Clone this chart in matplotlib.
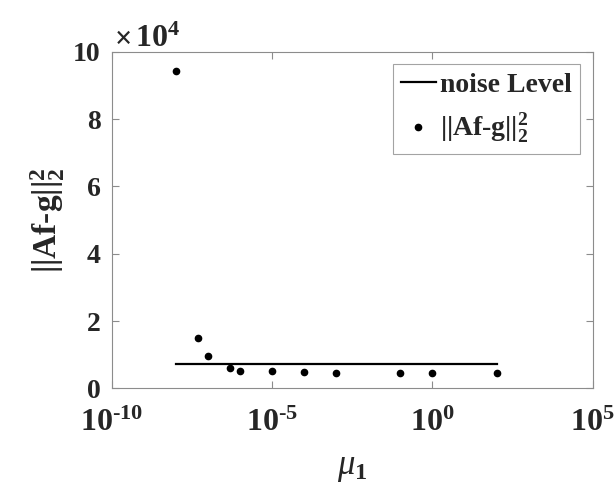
import matplotlib
matplotlib.use('Agg')
import matplotlib.pyplot as plt
import numpy as np

plt.rcParams['font.family'] = 'Liberation Serif'
plt.rcParams['font.weight'] = 'bold'
plt.rcParams['mathtext.fontset'] = 'custom'
plt.rcParams['mathtext.rm'] = 'Liberation Serif:bold'
plt.rcParams['mathtext.bf'] = 'Liberation Serif:bold'
plt.rcParams['mathtext.it'] = 'Liberation Serif:italic:normal'

# data
mu1 = [1e-8, 5e-8, 1e-7, 5e-7, 1e-6, 1e-5, 1e-4, 1e-3, 1e-1, 1e0, 1e2]
residual = [94300, 15000, 9600, 6000, 5300, 5300, 5000, 4600, 4600, 4600, 4600]
noise_x = [1e-8, 1e2]
noise_level = [7200, 7200]

xticks = [1e-10, 1e-5, 1e0, 1e5]
xticklabels = [r'10$^{\text{-}10}$', r'10$^{\text{-}5}$', r'10$^{0}$', r'10$^{5}$']
yticks = [0, 2e4, 4e4, 6e4, 8e4, 10e4]
yticklabels = ['0', '2', '4', '6', '8', '10']

fig = plt.figure(figsize=(6.16, 4.87), dpi=100)
ax = fig.add_axes([0.1813, 0.2025, 0.7809, 0.6913])

ax.plot(noise_x, noise_level, color='k', linewidth=1.6, label='noise Level')
ax.plot(mu1, residual, 'k.', markersize=9, label='||Af-g||$_2^2$')

ax.set_xscale('log')
ax.set_xlim(1e-10, 1e5)
ax.set_ylim(0, 1e5)
ax.set_xticks(xticks)
ax.set_xticklabels(xticklabels)
ax.xaxis.set_minor_locator(matplotlib.ticker.NullLocator())
ax.set_yticks(yticks)
ax.set_yticklabels(yticklabels)

for s in ax.spines.values():
    s.set_color('#8c8c8c')
    s.set_linewidth(0.8)
ax.tick_params(direction='in', top=True, right=True, length=5, width=0.8,
               color='#8c8c8c', labelcolor='#262626')
ax.tick_params(axis='y', labelsize=20, pad=8)
ax.tick_params(axis='x', labelsize=23, pad=15)

# exponent label above the y axis
ax.text(0.005, 1.014, r'$\times$', transform=ax.transAxes, fontsize=22,
        fontweight='normal', color='#262626', ha='left', va='baseline')
ax.text(0.048, 1.014, r'10$^{4}$', transform=ax.transAxes, fontsize=23,
        color='#262626', ha='left', va='baseline')

ax.set_xlabel(r'$\mu_{\mathbf{1}}$', fontsize=25, color='#262626', labelpad=9)
ax.set_ylabel('||Af-g||$_2^2$', fontsize=24, fontweight='bold',
              color='#262626', labelpad=4)

leg = ax.legend(loc='upper right', fontsize=20, frameon=True, fancybox=False,
                handlelength=1.25, handletextpad=0.15, borderpad=0.3,
                labelspacing=0.5, borderaxespad=0.45)
leg.get_frame().set_edgecolor('#8c8c8c')
leg.get_frame().set_linewidth(0.8)
for t in leg.get_texts():
    t.set_color('#262626')

fig.savefig('out.png', dpi=100)
